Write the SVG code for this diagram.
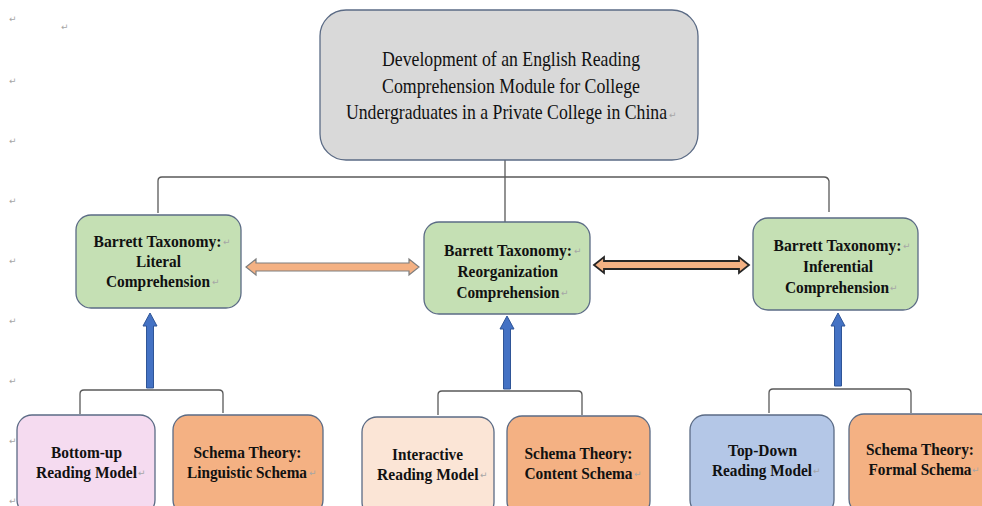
<svg xmlns="http://www.w3.org/2000/svg" width="982" height="506" viewBox="0 0 982 506">
<defs>
<style>
.t{font-family:"Liberation Serif","Times New Roman",serif;fill:#111}
.title{font-size:21.5px}
.b{font-size:17px;font-weight:bold}
.pm{font-family:"DejaVu Sans",sans-serif;fill:#a6a6a6;font-size:9px}
.box{stroke:#5b6b85;stroke-width:1.3}
.green{fill:#c5e0b4}
.sal{fill:#f4b183}
.con{fill:none;stroke:#595959;stroke-width:1.3}
.up{fill:#4472c4;stroke:#2f5597;stroke-width:1}
</style>
</defs>
<rect width="982" height="506" fill="#ffffff"/>
<g id="margin-marks">
<text class="pm" x="9" y="22">↵</text>
<text class="pm" x="61" y="30">↵</text>
<text class="pm" x="9" y="84">↵</text>
<text class="pm" x="9" y="144">↵</text>
<text class="pm" x="9" y="204">↵</text>
<text class="pm" x="9" y="264">↵</text>
<text class="pm" x="9" y="324">↵</text>
<text class="pm" x="9" y="384">↵</text>
<text class="pm" x="9" y="444">↵</text>
<text class="pm" x="9" y="504">↵</text>
</g>
<g id="connectors">
<path class="con" d="M505,160 V222 M158,213 V181 Q158,177 162,177 H824 Q828,177 829,181 V212"/>
<path class="con" d="M80,414 V394 Q80,390 84,390 H219 Q223,390 223,394 V413"/>
<path class="con" d="M438,415 V395 Q438,391 442,391 H578 Q582,391 582,395 V415"/>
<path class="con" d="M769,413 V393 Q769,389 773,389 H907 Q911,389 911,393 V413"/>
<path class="up" d="M146.5,388 V326 H143 L150,313 L157,326 H153.5 V388 Z"/>
<path class="up" d="M503.5,389 V329 H500 L507,316 L514,329 H510.5 V389 Z"/>
<path class="up" d="M834.5,386 V326 H831 L838,313 L845,326 H841.5 V386 Z"/>
<path d="M246,267 L256,259 V263 H409 V259 L419,267 L409,275 V271 H256 V275 Z" fill="#f4b183" stroke="#7f7f7f" stroke-width="1.2"/>
<path d="M594,265 L604,257 V261 H739 V257 L749,265 L739,273 V269 H604 V273 Z" fill="#f4b183" stroke="#262626" stroke-width="1.8"/>
</g>
<g id="title">
<rect class="box" x="320" y="10" width="378" height="150" rx="26" fill="#d9d9d9"/>
<text class="t title" x="382" y="66" textLength="258" lengthAdjust="spacingAndGlyphs">Development of an English Reading</text>
<text class="t title" x="382" y="92.5" textLength="258" lengthAdjust="spacingAndGlyphs">Comprehension Module for College</text>
<text class="t title" x="346" y="119" textLength="321" lengthAdjust="spacingAndGlyphs">Undergraduates in a Private College in China</text>
<text class="pm" x="669" y="118">↵</text>
</g>
<g id="literal">
<rect class="box green" x="76" y="215" width="165" height="93" rx="15"/>
<text class="t b" x="93.5" y="247" textLength="128" lengthAdjust="spacingAndGlyphs">Barrett Taxonomy:</text>
<text class="pm" x="223" y="245">↵</text>
<text class="t b" x="136" y="267" textLength="45" lengthAdjust="spacingAndGlyphs">Literal</text>
<text class="t b" x="106" y="287" textLength="104" lengthAdjust="spacingAndGlyphs">Comprehension</text>
<text class="pm" x="212" y="285">↵</text>
</g>
<g id="reorganization">
<rect class="box green" x="424" y="222" width="166" height="92" rx="15"/>
<text class="t b" x="444" y="256" textLength="128" lengthAdjust="spacingAndGlyphs">Barrett Taxonomy:</text>
<text class="pm" x="574" y="254">↵</text>
<text class="t b" x="457.5" y="277" textLength="100.5" lengthAdjust="spacingAndGlyphs">Reorganization</text>
<text class="t b" x="456.5" y="298" textLength="103" lengthAdjust="spacingAndGlyphs">Comprehension</text>
<text class="pm" x="561" y="296">↵</text>
</g>
<g id="inferential">
<rect class="box green" x="753" y="218" width="165" height="92" rx="15"/>
<text class="t b" x="773.5" y="251" textLength="128" lengthAdjust="spacingAndGlyphs">Barrett Taxonomy:</text>
<text class="pm" x="903" y="249">↵</text>
<text class="t b" x="803" y="272" textLength="70" lengthAdjust="spacingAndGlyphs">Inferential</text>
<text class="t b" x="785" y="293" textLength="104" lengthAdjust="spacingAndGlyphs">Comprehension</text>
<text class="pm" x="890" y="291">↵</text>
</g>
<g id="bottom-up">
<rect class="box" x="17" y="415" width="138" height="100" rx="15" fill="#f5dbf0"/>
<text class="t b" x="51" y="458" textLength="71" lengthAdjust="spacingAndGlyphs">Bottom-up</text>
<text class="t b" x="36" y="478" textLength="101" lengthAdjust="spacingAndGlyphs">Reading Model</text>
<text class="pm" x="138" y="476">↵</text>
</g>
<g id="linguistic">
<rect class="box sal" x="173" y="415" width="150" height="100" rx="15"/>
<text class="t b" x="193.5" y="458" textLength="108" lengthAdjust="spacingAndGlyphs">Schema Theory:</text>
<text class="t b" x="187" y="478" textLength="120" lengthAdjust="spacingAndGlyphs">Linguistic Schema</text>
<text class="pm" x="309" y="476">↵</text>
</g>
<g id="interactive">
<rect class="box" x="362" y="417" width="132" height="100" rx="15" fill="#fbe5d6"/>
<text class="t b" x="392" y="460" textLength="71" lengthAdjust="spacingAndGlyphs">Interactive</text>
<text class="t b" x="377" y="480" textLength="101.5" lengthAdjust="spacingAndGlyphs">Reading Model</text>
<text class="pm" x="480" y="478">↵</text>
</g>
<g id="content">
<rect class="box sal" x="507" y="416" width="143" height="100" rx="15"/>
<text class="t b" x="524.5" y="459" textLength="108" lengthAdjust="spacingAndGlyphs">Schema Theory:</text>
<text class="t b" x="524.5" y="479" textLength="108" lengthAdjust="spacingAndGlyphs">Content Schema</text>
<text class="pm" x="634" y="477">↵</text>
</g>
<g id="top-down">
<rect class="box" x="690" y="415" width="144" height="100" rx="15" fill="#b4c7e7"/>
<text class="t b" x="728" y="456" textLength="69" lengthAdjust="spacingAndGlyphs">Top-Down</text>
<text class="t b" x="712" y="476" textLength="100" lengthAdjust="spacingAndGlyphs">Reading Model</text>
<text class="pm" x="813" y="474">↵</text>
</g>
<g id="formal">
<rect class="box sal" x="849" y="414" width="145" height="100" rx="15"/>
<text class="t b" x="866" y="455" textLength="108" lengthAdjust="spacingAndGlyphs">Schema Theory:</text>
<text class="t b" x="868.5" y="475" textLength="103" lengthAdjust="spacingAndGlyphs">Formal Schema</text>
<text class="pm" x="972" y="473">↵</text>
</g>
</svg>
